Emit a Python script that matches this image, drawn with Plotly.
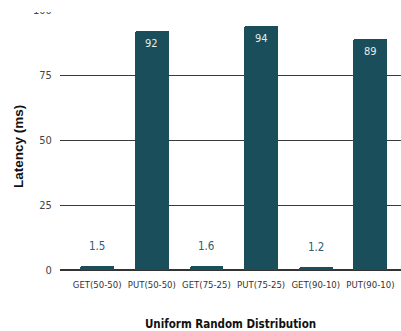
import plotly.graph_objects as go

categories = ["GET(50-50)", "PUT(50-50)", "GET(75-25)", "PUT(75-25)", "GET(90-10)", "PUT(90-10)"]
latency = [1.5, 92, 1.6, 94, 1.2, 89]
labels = ["1.5", "92", "1.6", "94", "1.2", "89"]
y_ticks = [0, 25, 50, 75, 100]

BAR = "#194e5a"
NARROW = "DejaVu Sans Condensed, Liberation Sans Narrow, Roboto, sans-serif"

fig = go.Figure()
fig.add_trace(go.Bar(
    x=list(range(len(categories))), y=latency,
    marker=dict(color=BAR, cornerradius=2, line=dict(width=0)),
    width=0.62, hoverinfo="skip",
))

annotations = []
for i, (v, t) in enumerate(zip(latency, labels)):
    if v > 10:
        annotations.append(dict(x=i, y=v, xref="x", yref="y", text=t, showarrow=False,
                                yanchor="top", yshift=-4,
                                font=dict(family=NARROW, size=11, color="#e4ecee")))
    else:
        annotations.append(dict(x=i, y=v, xref="x", yref="y", text=t, showarrow=False,
                                yanchor="bottom", yshift=11,
                                font=dict(family=NARROW, size=11.5, color="#2f6070")))

annotations.append(dict(x=-0.123, y=0.473, xref="paper", yref="paper",
                        text="<b>Latency (ms)</b>", showarrow=False, textangle=-90,
                        xanchor="center", yanchor="middle",
                        font=dict(family="Liberation Sans, Arial, sans-serif", size=13.5,
                                  color="#111111")))

fig.update_layout(
    width=401, height=331,
    margin=dict(l=60, r=0, t=10, b=61, autoexpand=False),
    paper_bgcolor="white", plot_bgcolor="white",
    showlegend=False,
    bargap=0,
    annotations=annotations,
    xaxis=dict(
        range=[-0.68, 5.56], automargin=False,
        tickmode="array", tickvals=list(range(len(categories))), ticktext=categories,
        tickangle=0,
        tickfont=dict(family=NARROW, size=9.5, color="#333333"),
        showgrid=False, zeroline=False, showline=False,
        ticks="outside", ticklen=6, tickcolor="rgba(0,0,0,0)",
        title=dict(text="<b>Uniform Random Distribution</b>",
                   font=dict(family=NARROW, size=11.5, color="#111111"), standoff=32),
    ),
    yaxis=dict(
        range=[0, 100], automargin=False,
        tickmode="array", tickvals=y_ticks,
        tickfont=dict(family=NARROW, size=11, color="#444444"),
        showgrid=True, gridcolor="#3a3a3a", gridwidth=1,
        zeroline=True, zerolinecolor="#333333", zerolinewidth=1.5,
        showline=False,
        ticks="outside", ticklen=5, tickcolor="rgba(0,0,0,0)",
    ),
    shapes=[dict(type="rect", xref="paper", yref="paper", x0=-0.2, x1=1.0,
                 y0=0.992, y1=1.05, fillcolor="white", line=dict(width=0), layer="above")],
)

fig.write_html("out.html")
